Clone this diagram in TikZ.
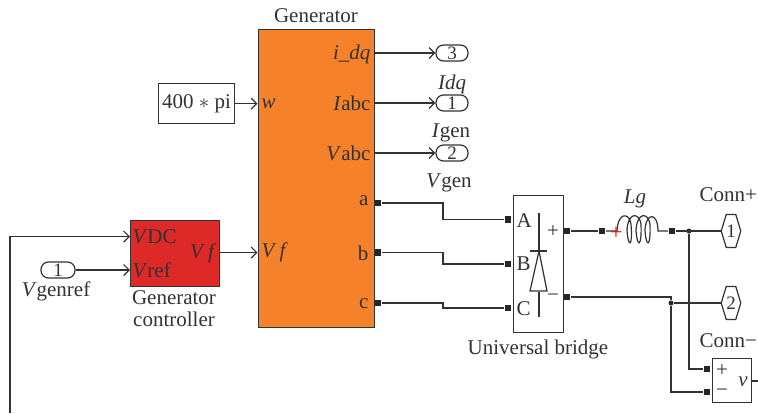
\documentclass[tikz,border=0pt]{standalone}
\usepackage{fontspec}
\setmainfont{Liberation Serif}
\usetikzlibrary{arrows.meta}
\usetikzlibrary{shapes.symbols}
\definecolor{genorange}{RGB}{245,130,42}
\definecolor{ctrlred}{RGB}{221,41,39}
\definecolor{inkline}{RGB}{50,50,50}
\newcommand{\iv}[1]{\textit{#1}}
\tikzset{
  every picture/.style={
    x=1pt, y=-1pt,
    line width=1.2pt,
    draw=inkline, text=inkline,
    >={Straight Barb[width=11pt, length=5.5pt]},
    font=\fontsize{21}{22}\selectfont
  },
  block/.style={
    draw, inner sep=0pt, anchor=north west
  },
  portsq/.style={
    rectangle, fill=black!85, minimum size=6.5pt,
    inner sep=0pt
  },
  pill/.style={
    draw, rounded corners=7.5pt, minimum width=32pt, minimum height=16pt,
    inner sep=0pt, font=\fontsize{19}{19}\selectfont
  },
  connhex/.style={
    draw, signal, signal to=east and west, signal pointer angle=146,
    minimum width=12pt, minimum height=33pt, inner sep=0pt,
    font=\fontsize{19}{19}\selectfont
  },
  dot/.style={
    circle, fill=black!85, minimum width=5pt,
    inner sep=0pt
  },
  txt/.style={
    inner sep=0pt
  }
}
\begin{document}
\begin{tikzpicture}
    \useasboundingbox (0,0) rectangle (758,413);
    % blocks
    \node [block,fill=genorange,minimum width=116pt,minimum height=298pt] (gen) at (257.5,29) {};
    \node [block,fill=ctrlred,minimum width=89pt,minimum height=66pt] (ctrl) at (130,220) {};
    \node [block,minimum width=76pt,minimum height=40pt] (const) at (158,83) {400 $*$ pi};
    \node [block,minimum width=50pt,minimum height=137pt] (bridge) at (512.5,195) {};
    \node [block,minimum width=39pt,minimum height=44pt] (sensor) at (712,358) {};
    % ports and terminals
    \node [pill] (out3) at (452,53) {3};
    \node [pill] (out1) at (452,103) {1};
    \node [pill] (out2) at (452,153) {2};
    \node [pill,minimum width=34pt] (in1) at (58,270) {1};
    \node [portsq] (pa) at (378,203) {};
    \node [portsq] (pb) at (378,252.5) {};
    \node [portsq] (pc) at (378,303) {};
    \node [portsq] (bA) at (508,219.5) {};
    \node [portsq] (bB) at (508,264) {};
    \node [portsq] (bC) at (508,308) {};
    \node [portsq] (bplus) at (567,231) {};
    \node [portsq] (bminus) at (567,297) {};
    \node [portsq] (lleft) at (602,231) {};
    \node [portsq] (lright) at (672,231) {};
    \node [portsq] (splus) at (707,369) {};
    \node [portsq] (sminus) at (707,392) {};
    \node [dot] (jtop) at (689,231) {};
    \node [dot] (jbot) at (671,303) {};
    \node [connhex] (conn1) at (731,231) {1};
    \node [connhex] (conn2) at (731,303) {2};
    \coordinate (fbend) at (10,413);
    \coordinate (sout) at (758,381);
    % signal lines
    \draw [->] (gen.north east |- out3) -- (out3);
    \draw [->] (gen.north east |- out1) -- (out1);
    \draw [->] (gen.north east |- out2) -- (out2);
    \draw [->] (const) -- (gen.west |- const);
    \draw [->] (ctrl.east |- 0,252.5) -- (gen.west |- 0,252.5);
    \draw [->] (in1) -- (ctrl.west |- in1);
    \draw [->] (fbend) |- (ctrl.west |- 0,236.5);
    \draw (pa) -- (443,203) |- (bA);
    \draw (pb) -- (443,252.5) |- (bB);
    \draw (pc) -- (443,303) |- (bC);
    \draw (bplus) -- (lleft);
    \draw (lright) -- (conn1);
    \draw (bminus) -| (jbot);
    \draw (jbot) -- (conn2);
    \draw (jbot) |- (sminus);
    \draw (jtop) |- (splus);
    \draw (sensor.east |- sout) -- (sout);
    % inductor
    \draw (lleft) -- (617,231)
      .. controls (618,212) and (629,212) .. (631,224) .. controls (633,248) and (628,248) .. (627,230)
      .. controls (628,212) and (639,212) .. (641,224) .. controls (642,248) and (637,248) .. (636,230)
      .. controls (637,212) and (648,212) .. (650,224) .. controls (651,248) and (646,248) .. (645,230)
      .. controls (646,212) and (658,212) .. (658,231) -- (lright);
    \node [txt,text=red,font=\fontsize{22}{22}\selectfont] (lplus) at (616,233) {+};
    % diode
    \draw (539,213) -- (539,251);
    \draw (530,251) -- (547,251);
    \draw (539,251) -- (530,291) -- (547,291) -- cycle;
    \draw (539,292) -- (539,317);
    % labels
    \node [txt] (lgen) at (316,16) {Generator};
    \node [txt,anchor=east] (lidq) at (371,54) {\iv{i\_dq}};
    \node [txt,anchor=east] (liabc) at (371,103) {\iv{I}abc};
    \node [txt,anchor=east] (lvabc) at (371,153) {\iv{V}abc};
    \node [txt,anchor=west] (lw) at (261,104) {\iv{w}};
    \node [txt,anchor=west] (lvf) at (261,252) {\iv{V f}};
    \node [txt,anchor=east] (la) at (369,201) {a};
    \node [txt,anchor=east] (lb) at (369,253) {b};
    \node [txt,anchor=east] (lc) at (369,304) {c};
    \node [txt] (ltdq) at (452,84) {\iv{Idq}};
    \node [txt] (ltgen) at (451,133) {\iv{I}gen};
    \node [txt] (ltvgen) at (449,183) {\iv{V}gen};
    \node [txt,anchor=west] (lvdc) at (132,237) {\iv{V}DC};
    \node [txt,anchor=west] (lvref) at (132,270) {\iv{V}ref};
    \node [txt,anchor=east] (lvfc) at (217,253) {\iv{V f}};
    \node [txt] (lvgenref) at (56,291) {\iv{V}genref};
    \node [txt,align=center] (lctrl) at (174,309) {Generator\\controller};
    \node [txt,anchor=west] (lA) at (516,221) {A};
    \node [txt,anchor=west] (lB) at (516,264) {B};
    \node [txt,anchor=west] (lC) at (516,309) {C};
    \node [txt] (lbp) at (553,232) {+};
    \node [txt] (lbm) at (553,298) {−};
    \node [txt] (lbridge) at (538,349) {Universal bridge};
    \node [txt] (llg) at (635,199) {\iv{Lg}};
    \node [txt,anchor=east] (lconnp) at (757.5,195) {Conn+};
    \node [txt,anchor=east] (lconnm) at (757.5,341) {Conn−};
    \node [txt] (lsp) at (722,371) {+};
    \node [txt] (lsm) at (722,393) {−};
    \node [txt] (lv) at (743,382) {\iv{v}};
\end{tikzpicture}
\end{document}
